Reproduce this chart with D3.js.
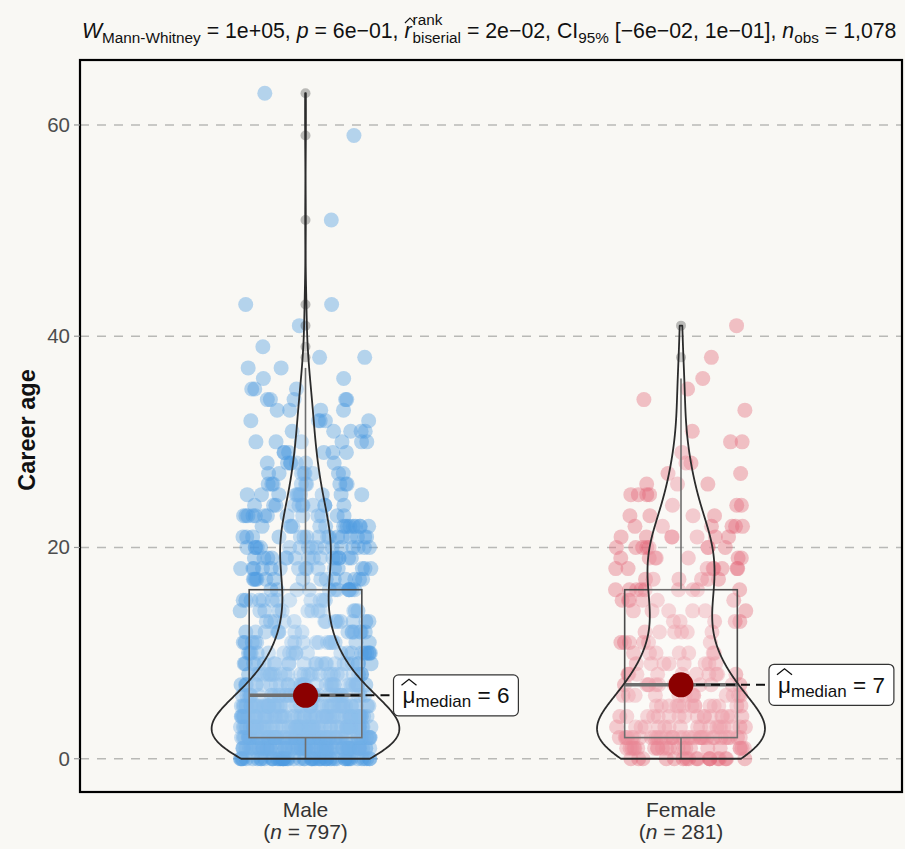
<!DOCTYPE html>
<html><head><meta charset="utf-8">
<script src="https://cdn.jsdelivr.net/npm/d3@7"></script>
<style>
html,body{margin:0;padding:0;background:#F9F8F4;}
svg{display:block;font-family:"Liberation Sans",Arial,Helvetica,sans-serif;}
</style>
</head><body>
<script>
// ---------------- data ----------------
const groups = ["Male", "Female"];
const groupN = [797, 281];
const maleAges   = [0,1,2,3,4,5,6,7,8,9,10,11,12,13,14,15,16,17,18,19,20,21,22,23,24,25,26,27,28,29,30,31,32,33,34,35,36,37,38,39,41,43,51,59,63];
const maleCounts = [55,70,80,65,58,48,40,32,27,22,20,17,15,13,12,12,13,14,15,16,17,16,15,13,11,10,9,8,7,6,6,5,5,4,5,3,2,2,2,1,1,2,1,1,1];
const femaleAges   = [0,1,2,3,4,5,6,7,8,9,10,11,12,13,14,15,16,17,18,19,20,21,22,23,24,25,26,27,28,29,30,31,33,34,35,36,38,41];
const femaleCounts = [18,22,34,18,17,14,13,12,10,8,7,6,6,5,6,6,9,6,8,7,8,7,6,4,3,4,3,2,2,1,2,1,1,1,1,1,1,1];
const medianLabels = ["6", "7"];
const yTicks = [0, 20, 40, 60];
const yLabel = "Career age";

// ---------------- layout ----------------
const W = 905, H = 849;
const P = {left: 80, right: 902, top: 60, bottom: 792};
const pointColors = ["#4D9BE0", "#E4697A"];
const bg = "#F9F8F4";

const svg = d3.select("body").append("svg").attr("width", W).attr("height", H);
svg.append("rect").attr("width", W).attr("height", H).attr("fill", bg);

const x = d3.scaleLinear().domain([0.4, 2.6]).range([80.2, 906.3]);
const y = d3.scaleLinear().domain([-3.15, 66.15]).range([P.bottom, P.top]);
const unit = x(2) - x(1);

function expand(ages, counts) {
  const out = [];
  ages.forEach((a, i) => { for (let k = 0; k < counts[i]; k++) out.push(a); });
  return out;
}
const data = [expand(maleAges, maleCounts), expand(femaleAges, femaleCounts)];

svg.append("defs").append("clipPath").attr("id", "pc")
  .append("rect").attr("x", P.left).attr("y", P.top).attr("width", P.right - P.left).attr("height", P.bottom - P.top);
const plot = svg.append("g").attr("clip-path", "url(#pc)");

// grid
plot.selectAll("line.grid").data(yTicks).join("line")
  .attr("x1", P.left).attr("x2", P.right)
  .attr("y1", d => y(d)).attr("y2", d => y(d))
  .attr("stroke", "#b9b9b6").attr("stroke-width", 1.6).attr("stroke-dasharray", "9,8");

// jittered points (deterministic seeded jitter)
const rnd = d3.randomUniform.source(d3.randomLcg(0.1234))(-0.175, 0.175);
data.forEach((vals, gi) => {
  const pts = vals.map(v => ({v, j: rnd()}));
  plot.append("g").selectAll("circle").data(pts).join("circle")
    .attr("cx", d => x(gi + 1 + d.j)).attr("cy", d => y(d.v)).attr("r", 7.5)
    .attr("fill", pointColors[gi]).attr("fill-opacity", 0.4);
});

// stats
function stats(vals) {
  const s = vals.slice().sort(d3.ascending);
  const q1 = d3.quantileSorted(s, 0.25), med = d3.quantileSorted(s, 0.5), q3 = d3.quantileSorted(s, 0.75);
  const iqr = q3 - q1;
  const lo = d3.min(s.filter(v => v >= q1 - 1.5 * iqr));
  const hi = d3.max(s.filter(v => v <= q3 + 1.5 * iqr));
  const outliers = Array.from(new Set(s.filter(v => v < lo || v > hi)));
  const sd = d3.deviation(s);
  const bw = 0.9 * Math.min(sd, iqr / 1.34) * Math.pow(s.length, -0.2);
  return {s, q1, med, q3, lo, hi, outliers, bw, min: s[0], max: s[s.length - 1]};
}
const st = data.map(stats);

// boxplots
st.forEach((d, gi) => {
  const cx = x(gi + 1), hw = 0.15 * unit;
  const g = plot.append("g");
  g.append("line").attr("x1", cx).attr("x2", cx).attr("y1", y(d.q3)).attr("y2", y(d.hi)).attr("stroke", "#4a4a4a").attr("stroke-width", 1.6);
  g.append("line").attr("x1", cx).attr("x2", cx).attr("y1", y(d.q1)).attr("y2", y(d.lo)).attr("stroke", "#4a4a4a").attr("stroke-width", 1.6);
  g.append("rect").attr("x", cx - hw).attr("width", 2 * hw).attr("y", y(d.q3)).attr("height", y(d.q1) - y(d.q3))
    .attr("fill", "#ffffff").attr("fill-opacity", 0.2).attr("stroke", "#4a4a4a").attr("stroke-width", 1.6);
  g.append("line").attr("x1", cx - hw).attr("x2", cx + hw).attr("y1", y(d.med)).attr("y2", y(d.med)).attr("stroke", "#4a4a4a").attr("stroke-width", 3.5);
  g.selectAll("circle").data(d.outliers).join("circle").attr("cx", cx).attr("cy", v => y(v)).attr("r", 5)
    .attr("fill", "#000").attr("fill-opacity", 0.25);
});

// violins (gaussian KDE, scale = area)
function kde(d) {
  const n = 512, pts = [];
  for (let i = 0; i < n; i++) {
    const t = d.min + (d.max - d.min) * i / (n - 1);
    let s = 0;
    for (const v of d.s) { const u = (t - v) / d.bw; s += Math.exp(-0.5 * u * u); }
    pts.push([t, s / (d.s.length * d.bw * Math.sqrt(2 * Math.PI))]);
  }
  return pts;
}
const dens = st.map(kde);
const dmax = d3.max(dens, ds => d3.max(ds, p => p[1]));
dens.forEach((ds, gi) => {
  const cx = x(gi + 1), hw = 0.25 * unit;
  const right = ds.map(p => [cx + hw * p[1] / dmax, y(p[0])]);
  const left = ds.map(p => [cx - hw * p[1] / dmax, y(p[0])]).reverse();
  plot.append("path").attr("d", d3.line()(right.concat(left)) + "Z")
    .attr("fill", "#ffffff").attr("fill-opacity", 0.2).attr("stroke", "#2b2b2b").attr("stroke-width", 1.8).attr("stroke-linejoin", "round");
});

// median points + labels
st.forEach((d, gi) => {
  const cx = x(gi + 1), cy = y(d.med);
  const bx = cx + 88, bh = 41;
  svg.append("line").attr("x1", cx).attr("x2", bx).attr("y1", cy).attr("y2", cy)
    .attr("stroke", "#111").attr("stroke-width", 2).attr("stroke-dasharray", "9,6");
  svg.append("circle").attr("cx", cx).attr("cy", cy).attr("r", 12.5).attr("fill", "#8B0000");
  const lg = svg.append("g");
  const box = lg.append("rect").attr("y", cy - bh / 2).attr("height", bh).attr("x", bx).attr("rx", 5)
    .attr("fill", "#ffffff").attr("stroke", "#333").attr("stroke-width", 1.2);
  const base = cy + 8;
  const t = lg.append("text").attr("x", bx + 9).attr("y", base).attr("fill", "#111").attr("font-size", 22.5);
  t.append("tspan").text("μ");
  t.append("tspan").attr("font-size", 17).attr("dy", 4).text("median");
  t.append("tspan").attr("dy", -4).text(" = " + medianLabels[gi]);
  const tw = t.node().getComputedTextLength();
  box.attr("width", tw + 18);
  const mw = 15;
  lg.append("path").attr("d", `M${bx + 8},${base - 18} L${bx + 8 + mw / 2},${base - 24} L${bx + 8 + mw},${base - 18}`)
    .attr("fill", "none").attr("stroke", "#111").attr("stroke-width", 1.3);
});

// panel border
svg.append("rect").attr("x", P.left).attr("y", P.top).attr("width", P.right - P.left).attr("height", P.bottom - P.top)
  .attr("fill", "none").attr("stroke", "#000").attr("stroke-width", 2.2);

// y axis ticks & labels
const ya = svg.append("g");
yTicks.forEach(v => {
  ya.append("line").attr("x1", 74).attr("x2", P.left).attr("y1", y(v)).attr("y2", y(v)).attr("stroke", "#999").attr("stroke-width", 1.2);
  ya.append("text").attr("x", 70).attr("y", y(v) + 7).attr("text-anchor", "end").attr("font-size", 20.5).attr("fill", "#4D4D4D").text(v);
});
svg.append("text").attr("transform", `translate(35,${(P.top + P.bottom) / 2 + 4}) rotate(-90)`)
  .attr("text-anchor", "middle").attr("font-size", 23.5).attr("font-weight", "bold").attr("fill", "#111").text(yLabel);

// x labels
groups.forEach((g, gi) => {
  const cx = x(gi + 1);
  svg.append("text").attr("x", cx).attr("y", 817).attr("text-anchor", "middle").attr("font-size", 21).attr("fill", "#333").text(g);
  const t = svg.append("text").attr("x", cx).attr("y", 839).attr("text-anchor", "middle").attr("font-size", 21).attr("fill", "#333");
  t.append("tspan").text("(");
  t.append("tspan").attr("font-style", "italic").text("n");
  t.append("tspan").text(" = " + groupN[gi] + ")");
});

// title (subtitle) with sub/superscripts
const segs = [
  {t: "W", it: true}, {t: "Mann-Whitney", sub: true}, {t: " = 1e+05, "},
  {t: "p", it: true}, {t: " = 6e−01, "},
  {t: "r", it: true, hat: true, sup: "rank", sub2: "biserial"}, {t: " = 2e−02, CI"},
  {t: "95%", sub: true}, {t: " [−6e−02, 1e−01], "},
  {t: "n", it: true}, {t: "obs", sub: true}, {t: " = 1,078"}
];
const fs = 21.3, sfs = 15.3, tb = 38;
let cxp = 82;
const tg = svg.append("g").attr("fill", "#111");
segs.forEach(s => {
  if (s.sub) {
    const e = tg.append("text").attr("x", cxp).attr("y", tb + 5).attr("font-size", sfs).text(s.t);
    cxp += e.node().getComputedTextLength();
  } else if (s.sup) {
    const e = tg.append("text").attr("x", cxp).attr("y", tb).attr("font-size", fs).attr("font-style", "italic").text(s.t);
    const w = e.node().getComputedTextLength();
    tg.append("path").attr("d", `M${cxp + 0.5},${tb - 15} L${cxp + w / 2 + 2},${tb - 20} L${cxp + w + 3},${tb - 15}`).attr("fill", "none").attr("stroke", "#111").attr("stroke-width", 1.1);
    const a = tg.append("text").attr("x", cxp + w + 1).attr("y", tb - 13).attr("font-size", sfs).text(s.sup);
    const b = tg.append("text").attr("x", cxp + w + 1).attr("y", tb + 5).attr("font-size", sfs).text(s.sub2);
    cxp += w + 1 + Math.max(a.node().getComputedTextLength(), b.node().getComputedTextLength());
  } else {
    const e = tg.append("text").attr("x", cxp).attr("y", tb).attr("font-size", fs).attr("font-style", s.it ? "italic" : null)
      .style("white-space", "pre").text(s.t);
    cxp += e.node().getComputedTextLength();
  }
});
</script>
</body></html>
